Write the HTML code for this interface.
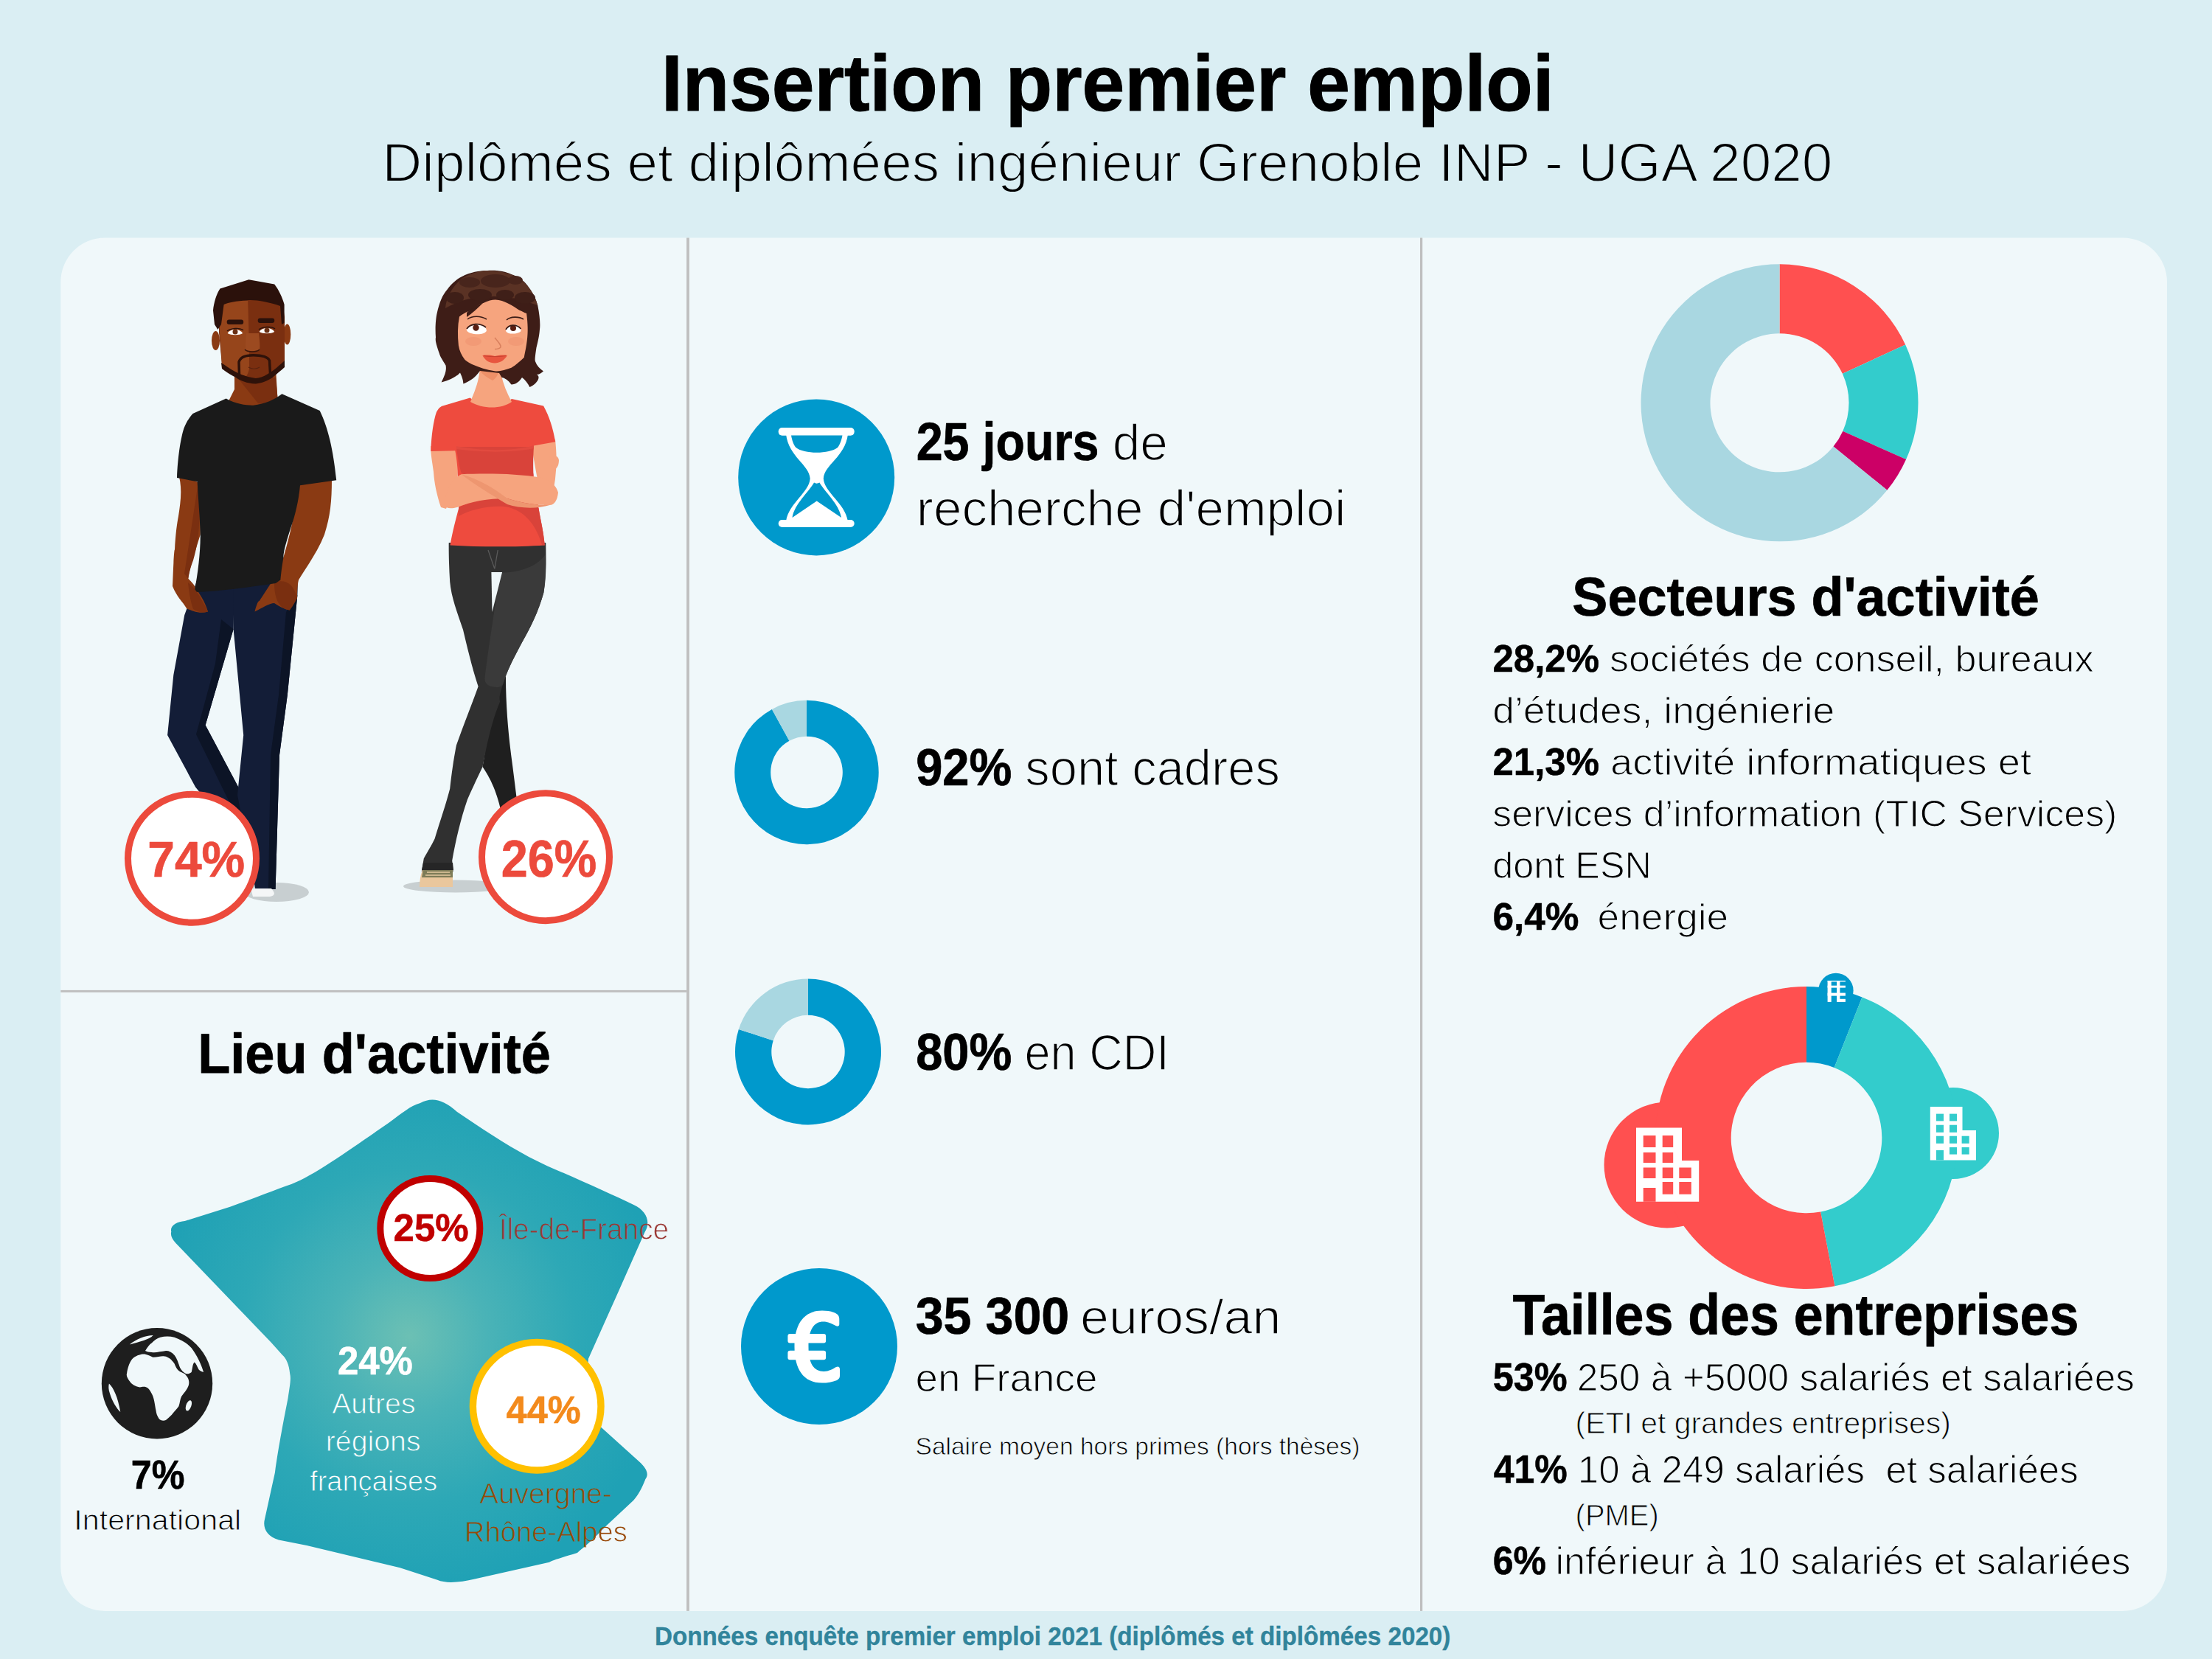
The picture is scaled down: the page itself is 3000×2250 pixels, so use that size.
<!DOCTYPE html>
<html><head><meta charset="utf-8"><title>Insertion premier emploi</title>
<style>html,body{margin:0;padding:0;background:#DAEEF3;}svg{display:block;font-family:"Liberation Sans",sans-serif;}</style>
</head><body>
<svg width="3000" height="2250" viewBox="0 0 3000 2250">
<rect width="3000" height="2250" fill="#DAEEF3"/>
<rect x="82.3" y="322.5" width="2856.7" height="1862.4" rx="60" ry="60" fill="#F0F8FA"/>
<rect x="931.1" y="322.5" width="3.8" height="1862.4" fill="#BFBFBF"/>
<rect x="1926" y="322.5" width="3.2" height="1862.4" fill="#BFBFBF"/>
<rect x="82.3" y="1342.9" width="849" height="3" fill="#BFBFBF"/>
<ellipse cx="375" cy="1210" rx="44" ry="13" fill="#C8CFD1"/>
<polygon points="268.0,785.0 318.0,785.0 316.6,853.2 278.6,983.4 324.7,1070.2 338.0,1110.0 300.0,1110.0 265.1,1067.5 227.1,997.0 235.3,915.6 250.2,834.2" fill="#131D37"/>
<polygon points="300.0,840.0 316.6,853.2 278.6,983.4 324.7,1070.2 338.0,1110.0 322.0,1110.0 266.0,996.0 292.0,900.0" fill="#0C1426"/>
<polygon points="316.0,780.0 404.0,780.0 403.4,807.1 389.8,942.7 379.0,1024.0 373.6,1206.0 346.4,1206.0 322.0,1078.3 330.2,997.0 316.6,853.2" fill="#131D37"/>
<polygon points="388.0,830.0 403.4,807.1 389.8,942.7 379.0,1024.0 373.6,1206.0 364.0,1206.0 367.0,1024.0 378.0,942.7" fill="#0C1426"/>
<path d="M340,1205 L368,1205 C372,1210 375,1214 366,1216 L343,1216 Z" fill="#F4F6F7"/>
<path d="M241,640 L270,655 C272,690 272,710 271.7,725 C266,745 258,765 255.3,784.4 C260,790 263,792 264,795 C270,805 278,815 282,829.5 C270,833 260,828 253.3,825.4 C247,815 240,810 234,795 C235,770 236,745 237,745.5 C238,725 240,710 242,700 C245,680 248,660 241,640 Z" fill="#8A3A13"/>
<path d="M268,660 C272,700 271,730 262,760 C258,770 256,780 255.3,784.4 L250,778 C256,740 262,700 268,660 Z" fill="#7A2F10"/>
<path d="M405,650 L450,650 C450,680 448,700 440,725 C430,750 415,770 405,786.4 C403,795 403,805 403,811 C398,820 395,825 392.7,827.4 C385,826 378,822 372,818 C365,818 355,825 345.5,829.5 C348,820 350,815 351.7,815.1 C358,805 365,795 370.1,786.4 C378,770 382,760 384.5,755.7 C392,730 400,700 405,650 Z" fill="#8A3A13"/>
<path d="M372,790 C385,785 398,790 403,811 C398,820 395,825 392.7,827.4 C380,826 372,815 372,790 Z" fill="#7A2F10"/>
<path d="M318,500 L374,500 L377,550 L306,552 L318,528 Z" fill="#8A3A13"/>
<path d="M322,512 L374,512 L377,545 C366,548 355,548 350,547 Z" fill="#7A2F10"/>
<path d="M306.6,540.5 C320,548 335,550 343.5,549.7 C360,548 372,542 382.4,534.3 L433.7,556.9 C445,580 452,610 456.2,651.2 L407,658.3 C405,680 400,700 394.7,714.7 C388,735 384,750 384.5,755.7 C382,770 381,780 380.4,786.4 L374,791 C340,796 300,802 263.5,803 C268,780 272,750 271.7,725 C271,700 269,680 267.6,653.2 L240,648 C241,620 245,595 249.2,581.5 C253,572 257,566 261.5,561 Z" fill="#1A1A1A"/>
<path d="M255,790 C262,795 270,805 282,829.5 C275,832 268,830 262,826 C258,815 256,800 255,790 Z" fill="#7A2F10"/>
<ellipse cx="292.5" cy="462" rx="5.5" ry="13" fill="#8A3A13"/>
<ellipse cx="389.5" cy="453.5" rx="4.8" ry="14" fill="#8A3A13"/>
<path d="M297,412 C320,403 350,402 383,410 L386,430 L386,493 C375,505 360,518 343,519 C325,518 310,505 301,495 L297,451 Z" fill="#7A2F10"/>
<path d="M298,412 L336,404 C337,430 338,470 338,500 C336,510 332,514 327,516 C315,508 305,500 301,495 L298,451 Z" fill="#96451B"/>
<path d="M334,452 L351,452 C352,462 353,470 352,474 C348,477 338,477 333,474 C333,468 333,460 334,452 Z" fill="#9C4A20"/>
<path d="M332,474 C336,478 348,478 352,474" stroke="#3A160B" stroke-width="1.5" fill="none"/>
<path d="M300,492 C312,500 325,510 346.6,513 C360,512 372,502 386,489 L386,498 C378,505 370,512 368,513 C360,518 352,520 346.6,520.5 C335,520 325,516 320,512 C312,508 306,504 301,500 Z" fill="#2E120A"/>
<path d="M324.5,509 L324,491 C326,484 335,481.8 343.5,481.8 C355,481.8 363,484 365.5,489 L366.5,507" stroke="#2E120A" stroke-width="3.5" fill="none"/>
<path d="M337,498 C341,501 348,501 352,498" stroke="#5A2410" stroke-width="1.2" fill="none"/>
<path d="M289,421 C290,410 294,398 298.4,391.5 L337.4,379.2 L372.2,385.4 C378,393 383,403 385.6,413 L385.6,438 L382,440 L380,415 C365,410 345,406 335.3,407.4 C320,408 310,410 303.6,413 L300,440 L295.4,447 L291,440 Z" fill="#2B110B"/>
<rect x="307.7" y="433.5" width="22.5" height="6.5" rx="3" fill="#2B110B"/><rect x="349.7" y="431.5" width="22.5" height="6.5" rx="3" fill="#2B110B"/>
<path d="M308.7,452 C312,446 325,445 329.2,452 C325,455 313,455 308.7,452 Z" fill="#FFFFFF"/><path d="M351.7,450 C355,444 368,443 372.2,450 C368,453 356,453 351.7,450 Z" fill="#FFFFFF"/>
<circle cx="319" cy="450" r="3.5" fill="#6A3015"/><circle cx="362" cy="448" r="3.5" fill="#6A3015"/>
<path d="M308,449 C313,445 325,444 330,448 M351,447 C356,443 368,442 373,446" stroke="#2B110B" stroke-width="1.4" fill="none"/>
<ellipse cx="618" cy="1202" rx="71" ry="8.5" fill="#C8CFD1"/>
<path d="M660,922 L686,918 C686,960 690,1000 694,1030 C698,1060 701,1085 704,1110 L682,1112 C676,1080 668,1060 654.5,1040 C660,1010 662,980 662,950 Z" fill="#1F1F1F"/>
<path d="M608.7,736 L740.2,736 C741,760 740,785 737.3,803.9 C730,830 720,850 707.7,871.8 C698,890 690,905 684.1,922 C680,935 676,945 678.2,951.6 C668,975 660,1010 654.5,1040 C645,1060 638,1075 633.9,1084.5 C625,1110 618,1140 613.2,1167.2 L614.7,1182 L571.8,1182 L574.8,1164.3 C580,1155 586,1145 589.5,1137.7 C598,1110 605,1090 610.2,1069.7 C613,1045 616,1025 619,1010.6 C628,985 640,955 648.6,930.9 C640,905 633,875 628,854 C620,830 612,810 610.2,789 C609,770 608.5,750 608.7,736 Z" fill="#303030"/>
<path d="M678.2,777 C700,776 725,772 740,752 C741,770 740,790 737.3,803.9 C730,830 720,850 707.7,871.8 C698,890 690,905 684.1,922 C682,930 680,932 674,932 C664,932 657,928 657.5,920 C662,880 672,820 678.2,777 Z" fill="#3A3A3A"/>
<path d="M666.4,776 L681.1,776 L667.5,830 Z" fill="#EEF6F8"/>
<path d="M662,746 L670.8,771.4 L675.2,746" stroke="#5A5A5A" stroke-width="1.3" fill="none"/>
<path d="M573,1180 L614,1180 L614,1203 L569,1203 C569,1195 570,1187 573,1180 Z" fill="#EAC79D"/>
<path d="M574,1179 L614,1179 L614,1190 L572,1190 Z" fill="#7E7C58"/>
<path d="M579,1183 L610,1183 M577,1187 L611,1187" stroke="#E4C9A0" stroke-width="1.6"/>
<path d="M574,1170 L614,1170 L615,1180 L572,1180 Z" fill="#262626"/>
<path d="M584,605 L620,605 C621,630 621,640 620.6,646.6 C618,660 612,675 605,690 L598,688 C592,670 589,655 588,640 C586,625 584,615 584,605 Z" fill="#F6A47E"/>
<path d="M720,598 L753,596 C755,615 755,630 754,638.2 C753,655 750,670 745.6,685 L738,685 C730,660 725,630 720,598 Z" fill="#F6A47E"/>
<path d="M637.5,539.4 C648,548 658,551 666.2,551.2 C678,551 688,546 694,541.1 L737.1,550.4 C745,565 750,580 753.2,599.3 L723.6,604.4 C722,620 722,635 723.6,645 C726,660 729,675 730.4,688.8 C733,705 737,720 738.8,739.4 C700,742 650,742 610.5,739.4 C614,720 618,705 622.3,688.8 C622,670 621,655 620.6,638.2 C620,625 618,615 617.3,611.2 L584.3,612 C585,590 588,570 592,558.8 C595,553 598,551 600.4,550.4 Z" fill="#EE4B3E"/>
<path d="M619,606 L724,606 C723,620 723,635 723.6,645 C690,655 650,652 625.7,641.5 C622,630 620,615 619,606 Z" fill="#D9433A"/>
<path d="M619,605 C650,612 700,612 724,604 L724,608 C700,614 650,614 619,609 Z" fill="#E24A3F"/>
<path d="M622,688 C660,670 710,672 730.4,688.8 C733,705 737,720 738.8,739.4 L735,739 C728,715 715,695 690,688 C670,684 640,690 622,700 Z" fill="#D9433A"/>
<path d="M602,685 C606,660 615,648 625.7,643.2 C660,642 700,642 735,648 C748,652 755,660 757,668 C756,678 752,685 745.6,685 C720,685 700,680 688,676 C660,676 640,680 620,688 C612,690 605,690 602,685 Z" fill="#F6A47E"/>
<path d="M625.7,643.2 C650,650 670,662 688,676 C700,680 720,685 745.6,685 C730,690 705,690 688,684 C665,670 645,658 625.7,643.2 Z" fill="#EE9670"/>
<path d="M745,620 C752,616 757,618 758,624 C758,632 755,636 750,638 Z" fill="#F6A47E"/>
<path d="M651,498 L678,498 C680,515 686,530 694,545 C680,555 655,555 638,545 C645,528 650,515 651,498 Z" fill="#F6A47E"/>
<path d="M651,500 L678,500 C676,508 672,514 668,516 C660,512 655,508 651,503 Z" fill="#EE9068"/>
<path d="M660.9,367 C672,366 685,368 693.5,371.9 C705,376 712,382 715.2,387.1 C722,396 727,405 729.3,414.2 C732,428 733,440 732,446.8 C731,460 728,468 727.1,473.9 C726,482 725,488 726,490.2 C728,496 732,500 737,503.5 C734,506 731,508 728,508 C735,512 726,522 718.4,525 C716,520 712,515 708,512 C704,518 700,521 693.5,521.6 C690,516 684,512 680.5,511.9 L677,506 L651,503 C646,510 640,516 628.4,520.5 C628,514 626,510 624,505.4 C620,510 610,516 598.6,518.4 C603,510 606,502 604.5,495.6 C600,488 597,484 595.8,479.3 C592,468 590,462 591,457.6 C590,445 591,432 592.6,425 C596,410 600,400 606.7,392.5 C612,385 620,378 626.2,375.2 C638,369 650,367 660.9,367 Z" fill="#3E1D17"/>
<path d="M626,378 C640,369 655,367 661,367 C680,367 700,372 712,384 C720,392 726,402 729,414 C715,410 700,402 688,405 C675,400 660,402 650,405 C635,402 615,412 604,418 C605,405 612,390 626,378 Z" fill="#5A3224"/>
<ellipse cx="637" cy="383" rx="14" ry="7" fill="#48251C"/><ellipse cx="672" cy="381" rx="20" ry="9" fill="#48251C"/><ellipse cx="699" cy="380" rx="10" ry="6" fill="#48251C"/>
<ellipse cx="617" cy="404" rx="12" ry="8" fill="#3F1F18"/><ellipse cx="651" cy="400" rx="16" ry="8" fill="#3F1F18"/><ellipse cx="685" cy="400" rx="12" ry="7" fill="#3F1F18"/><ellipse cx="712" cy="404" rx="14" ry="8" fill="#3F1F18"/>
<path d="M623,429.4 C630,424 635,422 639.2,420.7 C645,416 650,412 655.5,411 C662,408 667,406.6 671.8,406.6 C678,407 684,409 688,411 C695,414 700,418 704.3,420.7 C708,422 711,424 714.1,425 C716,440 716,450 715.2,457.6 C714,470 712,478 710.8,484.7 C705,490 700,495 693.5,498.8 C685,502 678,504 670.7,503.2 C660,502 650,498 640,494 C636,492 633,490 630.6,488 C626,482 623,476 621.9,468.5 C620.5,455 620.5,442 623,429.4 Z" fill="#F6A47E"/>
<path d="M633,424 C640,418 650,412 656,410 C648,418 640,425 633,430 Z" fill="#3E1D17"/>
<ellipse cx="642" cy="463" rx="11" ry="6" fill="#EE8F6E" opacity="0.5"/><ellipse cx="700" cy="463" rx="11" ry="6" fill="#EE8F6E" opacity="0.5"/>
<path d="M632.7,447 C636,440 645,438.5 652,440 C657,442 660,445 659.8,449 C657,453 650,454 643,453 C637,452 633,450 632.7,447 Z" fill="#FFFFFF"/>
<path d="M685.9,448 C689,441 696,439.5 702,441 C705,443 707,446 706.5,449 C704,452 697,453 692,452.5 C688,452 686,450 685.9,448 Z" fill="#FFFFFF"/>
<circle cx="645.5" cy="444.5" r="4.2" fill="#5A1E12"/><circle cx="696" cy="445" r="4" fill="#5A1E12"/>
<path d="M633,446 C638,439 650,437 659,444" stroke="#3B1C16" stroke-width="1.8" fill="none"/><path d="M686,447 C690,440 700,439 706.5,446" stroke="#3B1C16" stroke-width="1.8" fill="none"/>
<path d="M634,433 C640,428 652,428 660,433" stroke="#3B1C16" stroke-width="1.6" fill="none"/><path d="M687,434 C692,429 704,429 710,433" stroke="#3B1C16" stroke-width="1.6" fill="none"/>
<path d="M671,458 C676,464 680,468 679,471 C677,473 674,473.5 671,473.5" stroke="#D9805E" stroke-width="1.5" fill="none"/>
<path d="M654.4,482 C662,481 668,482 671,483 C675,482 682,481 688,482 C684,489 677,492.5 671,492.5 C664,492.5 658,489 654.4,482 Z" fill="#E8553F"/>
<path d="M656,482.5 C664,484 678,484 686,482.5" stroke="#C8402F" stroke-width="1" fill="none"/>
<circle cx="260.5" cy="1164.2" r="87" fill="#FFFFFF" stroke="#EC4A3C" stroke-width="9"/>
<circle cx="740" cy="1162.2" r="86.5" fill="#FFFFFF" stroke="#EC4A3C" stroke-width="9"/>
<defs><radialGradient id="mapg" cx="555" cy="1812" r="350" gradientUnits="userSpaceOnUse"><stop offset="0" stop-color="#6CC0B4"/><stop offset="0.3" stop-color="#4AB3B7"/><stop offset="0.65" stop-color="#2DA8B6"/><stop offset="1" stop-color="#1FA1B5"/></radialGradient></defs>
<path d="M232.3,1670.6 C230,1662 240,1657 250.7,1656 L312,1636.8 C345,1625 375,1613 395.2,1606 C430,1592 480,1555 527,1523 C545,1510 556,1500 570,1496 C585,1488 600,1490 620,1508 C660,1535 700,1562 742.6,1581.4 C790,1602 830,1620 859.4,1634 C877,1642 883,1658 874.5,1671 L836.5,1756.7 L798,1842.8 C795,1870 800,1910 813.4,1934 L866.6,1982 C878,1992 880,2000 875.4,2006 C870,2020 865,2028 859,2035 L821,2070.6 C805,2088 790,2100 783,2106 C760,2113 750,2116 745,2118.7 L643.8,2141.5 C625,2146 605,2148 593.2,2142.8 L542.5,2126.3 L416,2096 L378,2088.4 C362,2084 356,2072 359,2060.5 L372.9,1997.2 C378,1960 386,1920 390.6,1896 C393,1880 395,1870 393.2,1863 C392,1850 388,1842 383,1837.7 L368,1821 L238.4,1686 C233,1680 231,1675 232.3,1670.6 Z" fill="url(#mapg)"/>
<circle cx="583.3" cy="1666" r="67.5" fill="#FFFFFF" stroke="#C00000" stroke-width="9"/>
<circle cx="728.2" cy="1907.2" r="86.8" fill="#FFFFFF" stroke="#FFC000" stroke-width="9.4"/>
<circle cx="213" cy="1876.3" r="75.2" fill="#1E1E1E"/>
<path d="M180.7,1841.7 C188,1837 193,1836 198,1836.9 C203,1838 205,1840 207.7,1840.8 C214,1841 220,1838 225,1839.8 C231,1842 234,1846 236.6,1849.4 C238,1853 240,1857 242.4,1859.1 C246,1862 250,1862 252,1864.9 C256,1869 257,1874 255.9,1878.4 C254,1885 249,1889 246.2,1893.8 C244,1898 244,1903 242.4,1907.3 C239,1912 236,1915 232.7,1918.9 C229,1922 226,1926 223.1,1926.6 C219,1927 216,1925 215.4,1923.7 C213,1920 212,1917 211.5,1913.1 C210,1905 209,1895 205.7,1889.9 C203,1885 201,1882 198,1881.3 C194,1880 191,1882 188.4,1881.3 C184,1880 179,1878 176.8,1874.5 C173,1870 171,1866 172,1862.9 C173,1855 176,1846 180.7,1841.7 Z" fill="#F0F8FA"/>
<path d="M197,1832 C200,1827 203,1823 205.7,1821.5 C209,1818 213,1815 217.3,1813.8 C224,1812 230,1812 236.6,1813.8 C246,1817 254,1822 259.7,1828.2 C267,1838 273,1850 276.1,1861 C273,1860 271,1859 269.4,1857.2 C267,1853 266,1849 263.6,1847.5 C261,1850 261,1857 259.7,1861 C257,1863 254,1864 252,1862.9 C248,1861 246,1858 244.3,1855.2 C242,1849 240,1842 236.6,1837.9 C233,1834 229,1832 225,1832.1 C218,1833 211,1835 205.7,1834 C202,1834 199,1833 197,1832 Z" fill="#F0F8FA"/>
<path d="M175.8,1823.4 C185,1816 197,1811 207.7,1810.9 C205,1814 200,1816 195,1818 C188,1820 182,1822 175.8,1823.4 Z" fill="#F0F8FA"/>
<path d="M147.9,1876.4 C154,1882 160,1895 163.3,1915 C158,1910 152,1900 149,1890 C147,1884 147,1880 147.9,1876.4 Z" fill="#F0F8FA"/>
<ellipse cx="255.9" cy="1906.3" rx="3.5" ry="7.5" transform="rotate(20 255.9 1906.3)" fill="#F0F8FA"/>
<defs><clipPath id="mapclip"><path d="M232.3,1670.6 C230,1662 240,1657 250.7,1656 L312,1636.8 C345,1625 375,1613 395.2,1606 C430,1592 480,1555 527,1523 C545,1510 556,1500 570,1496 C585,1488 600,1490 620,1508 C660,1535 700,1562 742.6,1581.4 C790,1602 830,1620 859.4,1634 C877,1642 883,1658 874.5,1671 L836.5,1756.7 L798,1842.8 C795,1870 800,1910 813.4,1934 L866.6,1982 C878,1992 880,2000 875.4,2006 C870,2020 865,2028 859,2035 L821,2070.6 C805,2088 790,2100 783,2106 C760,2113 750,2116 745,2118.7 L643.8,2141.5 C625,2146 605,2148 593.2,2142.8 L542.5,2126.3 L416,2096 L378,2088.4 C362,2084 356,2072 359,2060.5 L372.9,1997.2 C378,1960 386,1920 390.6,1896 C393,1880 395,1870 393.2,1863 C392,1850 388,1842 383,1837.7 L368,1821 L238.4,1686 C233,1680 231,1675 232.3,1670.6 Z"/></clipPath><mask id="outmap" maskUnits="userSpaceOnUse" x="0" y="0" width="3000" height="2250"><rect width="3000" height="2250" fill="#fff"/><path d="M232.3,1670.6 C230,1662 240,1657 250.7,1656 L312,1636.8 C345,1625 375,1613 395.2,1606 C430,1592 480,1555 527,1523 C545,1510 556,1500 570,1496 C585,1488 600,1490 620,1508 C660,1535 700,1562 742.6,1581.4 C790,1602 830,1620 859.4,1634 C877,1642 883,1658 874.5,1671 L836.5,1756.7 L798,1842.8 C795,1870 800,1910 813.4,1934 L866.6,1982 C878,1992 880,2000 875.4,2006 C870,2020 865,2028 859,2035 L821,2070.6 C805,2088 790,2100 783,2106 C760,2113 750,2116 745,2118.7 L643.8,2141.5 C625,2146 605,2148 593.2,2142.8 L542.5,2126.3 L416,2096 L378,2088.4 C362,2084 356,2072 359,2060.5 L372.9,1997.2 C378,1960 386,1920 390.6,1896 C393,1880 395,1870 393.2,1863 C392,1850 388,1842 383,1837.7 L368,1821 L238.4,1686 C233,1680 231,1675 232.3,1670.6 Z" fill="#000"/></mask></defs>
<circle cx="1107.2" cy="647.4" r="106" fill="#0099CC"/>
<rect x="1055.7" y="580" width="103" height="10.8" rx="5" fill="#FFFFFF"/><rect x="1055.7" y="705" width="103" height="10" rx="5" fill="#FFFFFF"/><path d="M1066,589 L1150,589 C1146,620 1118,630 1116.8,649 C1118,668 1146,682 1150,707 L1066,707 C1070,682 1097.5,668 1098.7,649 C1097.5,630 1070,620 1066,589 Z" fill="#FFFFFF"/><path d="M1073,590.5 L1142.5,590.5 C1141,598 1139,603 1136,607 C1125,616 1090,616 1079.5,607 C1076,603 1074.5,598 1073,590.5 Z" fill="#0099CC"/><path d="M1104,654.5 C1098,666 1077,684 1074.5,702 L1107.7,679.4 L1141,702 C1138.5,684 1117.5,666 1111.5,654.5 C1109,656 1106,656 1104,654.5 Z" fill="#0099CC"/>
<path d="M1094.00,949.80 A97.7,97.7 0 1 1 1046.93,961.88 L1070.49,1004.74 A48.8,48.8 0 1 0 1094.00,998.70 Z" fill="#0099CC"/>
<path d="M1046.93,961.88 A97.7,97.7 0 0 1 1094.00,949.80 L1094.00,998.70 A48.8,48.8 0 0 0 1070.49,1004.74 Z" fill="#A9D7E1"/>
<path d="M1096.00,1327.50 A99,99 0 1 1 1001.85,1395.91 L1048.73,1411.14 A49.7,49.7 0 1 0 1096.00,1376.80 Z" fill="#0099CC"/>
<path d="M1001.85,1395.91 A99,99 0 0 1 1096.00,1327.50 L1096.00,1376.80 A49.7,49.7 0 0 0 1048.73,1411.14 Z" fill="#A9D7E1"/>
<circle cx="1111" cy="1826" r="106" fill="#0099CC"/>
<path d="M1115,1777.6 C1123,1777.6 1131,1779 1135.5,1782.5 C1138,1784.5 1138.3,1787 1138.3,1790 L1138.3,1796 C1138.3,1798.5 1136,1799.5 1133.5,1798 C1128,1795 1123,1792.5 1116.6,1792.5 C1104,1792.5 1096.5,1803 1096.5,1826.5 C1096.5,1850 1104,1860 1117.4,1859.9 C1124,1859.9 1129,1857 1134,1854 C1137,1852.5 1139,1854 1139,1857 L1139,1866 C1139,1869 1137.5,1870.5 1135,1872 C1129,1874.5 1122,1875.6 1115,1875.6 C1089,1875.6 1077.5,1856 1077.5,1826.5 C1077.5,1796 1090,1777.6 1115,1777.6 Z" fill="#FFFFFF"/><rect x="1068.4" y="1809" width="51.7" height="12.5" rx="3" fill="#FFFFFF"/><rect x="1068.4" y="1831.7" width="51.7" height="12.5" rx="3" fill="#FFFFFF"/>
<path d="M2413.50,358.30 A188,188 0 0 1 2584.16,467.44 L2498.83,506.87 A94,94 0 0 0 2413.50,452.30 Z" fill="#FF5050"/>
<path d="M2584.16,467.44 A188,188 0 0 1 2585.11,623.07 L2499.31,584.68 A94,94 0 0 0 2498.83,506.87 Z" fill="#33CCCC"/>
<path d="M2585.11,623.07 A188,188 0 0 1 2559.40,664.87 L2486.45,605.58 A94,94 0 0 0 2499.31,584.68 Z" fill="#CC0066"/>
<path d="M2559.40,664.87 A188,188 0 1 1 2413.50,358.30 L2413.50,452.30 A94,94 0 1 0 2486.45,605.58 Z" fill="#A9D7E1"/>
<circle cx="2261" cy="1580" r="85.5" fill="#FF5050"/>
<circle cx="2649" cy="1537" r="62" fill="#33CCCC"/>
<circle cx="2489.9" cy="1343.4" r="23.7" fill="#0099CC"/>
<path d="M2450.00,1338.00 A205,205 0 0 1 2525.47,1352.40 L2487.66,1447.88 A102.3,102.3 0 0 0 2450.00,1440.70 Z" fill="#0099CC"/>
<path d="M2525.47,1352.40 A205,205 0 0 1 2488.41,1744.37 L2469.17,1643.49 A102.3,102.3 0 0 0 2487.66,1447.88 Z" fill="#33CCCC"/>
<path d="M2488.41,1744.37 A205,205 0 1 1 2450.00,1338.00 L2450.00,1440.70 A102.3,102.3 0 1 0 2469.17,1643.49 Z" fill="#FF5050"/>
<path d="M2219,1629.8 L2219,1529.4 L2281,1529.4 L2281,1574 L2304.2,1574 L2304.2,1629.8 Z" fill="#FFFFFF"/><rect x="2228.7" y="1540" width="16.800000000000182" height="16" fill="#FF5050"/><rect x="2228.7" y="1563" width="16.800000000000182" height="14" fill="#FF5050"/><rect x="2228.7" y="1583.5" width="16.800000000000182" height="14.5" fill="#FF5050"/><rect x="2254.7" y="1540" width="14.5" height="16" fill="#FF5050"/><rect x="2254.7" y="1563" width="14.5" height="14" fill="#FF5050"/><rect x="2254.7" y="1583.5" width="14.5" height="14.5" fill="#FF5050"/><rect x="2277.3" y="1583.5" width="16.5" height="14.5" fill="#FF5050"/><rect x="2254.7" y="1603" width="14.5" height="16.700000000000045" fill="#FF5050"/><rect x="2277.3" y="1603" width="16.5" height="16.700000000000045" fill="#FF5050"/><rect x="2228.7" y="1611" width="16.800000000000182" height="18.799999999999955" fill="#FF5050"/>
<path d="M2617.8,1573.4 L2617.8,1501 L2661.5,1501 L2661.5,1532.9 L2680,1532.9 L2680,1573.4 Z" fill="#FFFFFF"/><rect x="2626" y="1510.6" width="10" height="9.800000000000182" fill="#33CCCC"/><rect x="2626" y="1525.7" width="10" height="10.099999999999909" fill="#33CCCC"/><rect x="2626" y="1540.7" width="10" height="10.099999999999909" fill="#33CCCC"/><rect x="2644" y="1510.6" width="10" height="9.800000000000182" fill="#33CCCC"/><rect x="2644" y="1525.7" width="10" height="10.099999999999909" fill="#33CCCC"/><rect x="2644" y="1540.7" width="10" height="10.099999999999909" fill="#33CCCC"/><rect x="2660.6" y="1540.7" width="10.099999999999909" height="10.099999999999909" fill="#33CCCC"/><rect x="2644" y="1556" width="10" height="9.599999999999909" fill="#33CCCC"/><rect x="2660.6" y="1556" width="10.099999999999909" height="9.599999999999909" fill="#33CCCC"/><rect x="2626" y="1560" width="10" height="13.400000000000091" fill="#33CCCC"/>
<g fill="#FFFFFF"><rect x="2478.6" y="1330" width="5.1" height="28.9"/><rect x="2478.6" y="1330" width="24.3" height="1.4"/><rect x="2491.1" y="1330" width="4.3" height="28.9"/><rect x="2478.6" y="1336.7" width="24.3" height="2.9"/><rect x="2478.6" y="1346.6" width="24.3" height="4"/><rect x="2491.1" y="1354.8" width="11.8" height="4.1"/></g>
<text x="897.0" y="150.4" font-size="108.43" font-weight="bold" fill="#000000" textLength="1210.48" lengthAdjust="spacingAndGlyphs" xml:space="preserve" stroke="#000000" stroke-width="1.08" stroke-linejoin="round">Insertion premier emploi</text>
<text x="518.37" y="246.0" font-size="74.3" font-weight="normal" fill="#000000" textLength="1966.92" lengthAdjust="spacingAndGlyphs" xml:space="preserve" stroke="#DAEEF3" stroke-width="1.78" stroke-linejoin="round">Diplômés et diplômées ingénieur Grenoble INP - UGA 2020</text>
<text x="1242.7" y="623.5" font-size="71.66" font-weight="bold" fill="#000000" textLength="247.78" lengthAdjust="spacingAndGlyphs" xml:space="preserve" stroke="#000000" stroke-width="0.72" stroke-linejoin="round">25 jours</text>
<text x="1508.65" y="623.5" font-size="68.79" font-weight="normal" fill="#000000" textLength="75.2" lengthAdjust="spacingAndGlyphs" xml:space="preserve" stroke="#F0F8FA" stroke-width="1.65" stroke-linejoin="round">de</text>
<text x="1242.87" y="713.0" font-size="68.79" font-weight="normal" fill="#000000" textLength="582.43" lengthAdjust="spacingAndGlyphs" xml:space="preserve" stroke="#F0F8FA" stroke-width="1.65" stroke-linejoin="round">recherche d&#x27;emploi</text>
<text x="1242.17" y="1064.5" font-size="70.93" font-weight="bold" fill="#000000" textLength="130.23" lengthAdjust="spacingAndGlyphs" xml:space="preserve" stroke="#000000" stroke-width="0.71" stroke-linejoin="round">92%</text>
<text x="1390.34" y="1064.5" font-size="68.09" font-weight="normal" fill="#000000" textLength="345.57" lengthAdjust="spacingAndGlyphs" xml:space="preserve" stroke="#F0F8FA" stroke-width="1.63" stroke-linejoin="round">sont cadres</text>
<text x="1242.17" y="1450.8" font-size="70.93" font-weight="bold" fill="#000000" textLength="130.23" lengthAdjust="spacingAndGlyphs" xml:space="preserve" stroke="#000000" stroke-width="0.71" stroke-linejoin="round">80%</text>
<text x="1389.52" y="1450.8" font-size="68.09" font-weight="normal" fill="#000000" textLength="196.34" lengthAdjust="spacingAndGlyphs" xml:space="preserve" stroke="#F0F8FA" stroke-width="1.63" stroke-linejoin="round">en CDI</text>
<text x="1241.64" y="1809.0" font-size="69.77" font-weight="bold" fill="#000000" textLength="208.63" lengthAdjust="spacingAndGlyphs" xml:space="preserve" stroke="#000000" stroke-width="0.70" stroke-linejoin="round">35 300</text>
<text x="1465.06" y="1809.0" font-size="66.98" font-weight="normal" fill="#000000" textLength="272.37" lengthAdjust="spacingAndGlyphs" xml:space="preserve" stroke="#F0F8FA" stroke-width="1.61" stroke-linejoin="round">euros/an</text>
<text x="1241.58" y="1887.1" font-size="54.42" font-weight="normal" fill="#000000" textLength="246.9" lengthAdjust="spacingAndGlyphs" xml:space="preserve" stroke="#F0F8FA" stroke-width="1.31" stroke-linejoin="round">en France</text>
<text x="1241.59" y="1972.6" font-size="33.27" font-weight="normal" fill="#000000" textLength="602.94" lengthAdjust="spacingAndGlyphs" xml:space="preserve" stroke="#F0F8FA" stroke-width="0.80" stroke-linejoin="round">Salaire moyen hors primes (hors thèses)</text>
<text x="2132.36" y="835.3" font-size="74.13" font-weight="bold" fill="#000000" textLength="633.33" lengthAdjust="spacingAndGlyphs" xml:space="preserve" stroke="#000000" stroke-width="0.74" stroke-linejoin="round">Secteurs d&#x27;activité</text>
<text x="2024.41" y="911.3" font-size="51.31" font-weight="bold" fill="#000000" textLength="144.63" lengthAdjust="spacingAndGlyphs" xml:space="preserve" stroke="#000000" stroke-width="0.51" stroke-linejoin="round">28,2%</text>
<text x="2182.99" y="911.3" font-size="49.26" font-weight="normal" fill="#000000" textLength="656.56" lengthAdjust="spacingAndGlyphs" xml:space="preserve" stroke="#F0F8FA" stroke-width="1.18" stroke-linejoin="round">sociétés de conseil, bureaux</text>
<text x="2024.23" y="981.0" font-size="49.26" font-weight="normal" fill="#000000" textLength="464.1" lengthAdjust="spacingAndGlyphs" xml:space="preserve" stroke="#F0F8FA" stroke-width="1.18" stroke-linejoin="round">d’études, ingénierie</text>
<text x="2024.41" y="1050.5" font-size="51.31" font-weight="bold" fill="#000000" textLength="144.63" lengthAdjust="spacingAndGlyphs" xml:space="preserve" stroke="#000000" stroke-width="0.51" stroke-linejoin="round">21,3%</text>
<text x="2184.09" y="1050.5" font-size="49.26" font-weight="normal" fill="#000000" textLength="571.02" lengthAdjust="spacingAndGlyphs" xml:space="preserve" stroke="#F0F8FA" stroke-width="1.18" stroke-linejoin="round">activité informatiques et</text>
<text x="2024.29" y="1120.5" font-size="49.26" font-weight="normal" fill="#000000" textLength="847.07" lengthAdjust="spacingAndGlyphs" xml:space="preserve" stroke="#F0F8FA" stroke-width="1.18" stroke-linejoin="round">services d’information (TIC Services)</text>
<text x="2024.36" y="1191.0" font-size="49.26" font-weight="normal" fill="#000000" textLength="215.54" lengthAdjust="spacingAndGlyphs" xml:space="preserve" stroke="#F0F8FA" stroke-width="1.18" stroke-linejoin="round">dont ESN</text>
<text x="2024.4" y="1261.0" font-size="51.31" font-weight="bold" fill="#000000" textLength="117.03" lengthAdjust="spacingAndGlyphs" xml:space="preserve" stroke="#000000" stroke-width="0.51" stroke-linejoin="round">6,4%</text>
<text x="2166.64" y="1261.0" font-size="49.26" font-weight="normal" fill="#000000" textLength="177.54" lengthAdjust="spacingAndGlyphs" xml:space="preserve" stroke="#F0F8FA" stroke-width="1.18" stroke-linejoin="round">énergie</text>
<text x="2051.47" y="1809.6" font-size="77.47" font-weight="bold" fill="#000000" textLength="767.88" lengthAdjust="spacingAndGlyphs" xml:space="preserve" stroke="#000000" stroke-width="0.77" stroke-linejoin="round">Tailles des entreprises</text>
<text x="2024.7" y="1886.0" font-size="53.05" font-weight="bold" fill="#000000" textLength="100.91" lengthAdjust="spacingAndGlyphs" xml:space="preserve" stroke="#000000" stroke-width="0.53" stroke-linejoin="round">53%</text>
<text x="2138.67" y="1886.0" font-size="50.93" font-weight="normal" fill="#000000" textLength="756.41" lengthAdjust="spacingAndGlyphs" xml:space="preserve" stroke="#F0F8FA" stroke-width="1.22" stroke-linejoin="round">250 à +5000 salariés et salariées</text>
<text x="2136.6" y="1944.0" font-size="40.89" font-weight="normal" fill="#000000" textLength="509.3" lengthAdjust="spacingAndGlyphs" xml:space="preserve" stroke="#F0F8FA" stroke-width="0.98" stroke-linejoin="round">(ETI et grandes entreprises)</text>
<text x="2025.66" y="2010.6" font-size="53.05" font-weight="bold" fill="#000000" textLength="99.94" lengthAdjust="spacingAndGlyphs" xml:space="preserve" stroke="#000000" stroke-width="0.53" stroke-linejoin="round">41%</text>
<text x="2139.89" y="2010.6" font-size="50.93" font-weight="normal" fill="#000000" textLength="678.95" lengthAdjust="spacingAndGlyphs" xml:space="preserve" stroke="#F0F8FA" stroke-width="1.22" stroke-linejoin="round">10 à 249 salariés  et salariées</text>
<text x="2136.62" y="2068.8" font-size="40.18" font-weight="normal" fill="#000000" textLength="113.18" lengthAdjust="spacingAndGlyphs" xml:space="preserve" stroke="#F0F8FA" stroke-width="0.96" stroke-linejoin="round">(PME)</text>
<text x="2024.72" y="2135.1" font-size="53.05" font-weight="bold" fill="#000000" textLength="72.16" lengthAdjust="spacingAndGlyphs" xml:space="preserve" stroke="#000000" stroke-width="0.53" stroke-linejoin="round">6%</text>
<text x="2109.43" y="2135.1" font-size="50.93" font-weight="normal" fill="#000000" textLength="780.22" lengthAdjust="spacingAndGlyphs" xml:space="preserve" stroke="#F0F8FA" stroke-width="1.22" stroke-linejoin="round">inférieur à 10 salariés et salariées</text>
<text x="888.06" y="2230.7" font-size="34.16" font-weight="bold" fill="#31849B" textLength="1079.33" lengthAdjust="spacingAndGlyphs" xml:space="preserve" stroke="#31849B" stroke-width="0.34" stroke-linejoin="round">Données enquête premier emploi 2021 (diplômés et diplômées 2020)</text>
<text x="268.19" y="1455.4" font-size="75.15" font-weight="bold" fill="#000000" textLength="478.76" lengthAdjust="spacingAndGlyphs" xml:space="preserve" stroke="#000000" stroke-width="0.75" stroke-linejoin="round">Lieu d&#x27;activité</text>
<text x="533.53" y="1683.0" font-size="51.89" font-weight="bold" fill="#C00000" textLength="102.17" lengthAdjust="spacingAndGlyphs" xml:space="preserve" stroke="#C00000" stroke-width="0.52" stroke-linejoin="round">25%</text>
<g clip-path="url(#mapclip)"><text x="677.0" y="1681.0" font-size="40.26" font-weight="normal" fill="#9B3935" textLength="230.01" lengthAdjust="spacingAndGlyphs" xml:space="preserve" stroke-width="0.97" stroke-linejoin="round" stroke="url(#mapg)">Île-de-France</text></g><g mask="url(#outmap)"><text x="677.0" y="1681.0" font-size="40.26" font-weight="normal" fill="#9B3935" textLength="230.01" lengthAdjust="spacingAndGlyphs" xml:space="preserve" stroke-width="0.97" stroke-linejoin="round" stroke="#F0F8FA">Île-de-France</text></g>
<text x="686.53" y="1930.0" font-size="52.03" font-weight="bold" fill="#F38A1C" textLength="101.25" lengthAdjust="spacingAndGlyphs" xml:space="preserve" stroke="#F38A1C" stroke-width="0.52" stroke-linejoin="round">44%</text>
<g clip-path="url(#mapclip)"><text x="650.2" y="2038.8" font-size="38.91" font-weight="normal" fill="#984807" textLength="179.82" lengthAdjust="spacingAndGlyphs" xml:space="preserve" stroke-width="0.93" stroke-linejoin="round" stroke="url(#mapg)">Auvergne-</text></g><g mask="url(#outmap)"><text x="650.2" y="2038.8" font-size="38.91" font-weight="normal" fill="#984807" textLength="179.82" lengthAdjust="spacingAndGlyphs" xml:space="preserve" stroke-width="0.93" stroke-linejoin="round" stroke="#F0F8FA">Auvergne-</text></g>
<g clip-path="url(#mapclip)"><text x="630.07" y="2090.9" font-size="39.05" font-weight="normal" fill="#984807" textLength="220.74" lengthAdjust="spacingAndGlyphs" xml:space="preserve" stroke-width="0.94" stroke-linejoin="round" stroke="url(#mapg)">Rhône-Alpes</text></g><g mask="url(#outmap)"><text x="630.07" y="2090.9" font-size="39.05" font-weight="normal" fill="#984807" textLength="220.74" lengthAdjust="spacingAndGlyphs" xml:space="preserve" stroke-width="0.94" stroke-linejoin="round" stroke="#F0F8FA">Rhône-Alpes</text></g>
<text x="458.01" y="1864.0" font-size="53.78" font-weight="bold" fill="#FFFFFF" textLength="101.83" lengthAdjust="spacingAndGlyphs" xml:space="preserve" stroke="#FFFFFF" stroke-width="0.54" stroke-linejoin="round">24%</text>
<text x="450.2" y="1917.0" font-size="39.48" font-weight="normal" fill="#FFFFFF" textLength="113.37" lengthAdjust="spacingAndGlyphs" xml:space="preserve" stroke="url(#mapg)" stroke-width="0.95" stroke-linejoin="round">Autres</text>
<text x="441.71" y="1968.4" font-size="39.48" font-weight="normal" fill="#FFFFFF" textLength="128.83" lengthAdjust="spacingAndGlyphs" xml:space="preserve" stroke="url(#mapg)" stroke-width="0.95" stroke-linejoin="round">régions</text>
<text x="420.14" y="2022.0" font-size="39.48" font-weight="normal" fill="#FFFFFF" textLength="173.02" lengthAdjust="spacingAndGlyphs" xml:space="preserve" stroke="url(#mapg)" stroke-width="0.95" stroke-linejoin="round">françaises</text>
<text x="177.86" y="2019.2" font-size="54.65" font-weight="bold" fill="#000000" textLength="72.75" lengthAdjust="spacingAndGlyphs" xml:space="preserve" stroke="#000000" stroke-width="0.55" stroke-linejoin="round">7%</text>
<text x="100.32" y="2075.1" font-size="39.48" font-weight="normal" fill="#000000" textLength="226.91" lengthAdjust="spacingAndGlyphs" xml:space="preserve" stroke="#F0F8FA" stroke-width="0.95" stroke-linejoin="round">International</text>
<text x="200.33" y="1189.2" font-size="68.9" font-weight="bold" fill="#EC4A3C" textLength="131.85" lengthAdjust="spacingAndGlyphs" xml:space="preserve" stroke="#EC4A3C" stroke-width="0.69" stroke-linejoin="round">74%</text>
<text x="679.75" y="1189.2" font-size="69.77" font-weight="bold" fill="#EC4A3C" textLength="129.34" lengthAdjust="spacingAndGlyphs" xml:space="preserve" stroke="#EC4A3C" stroke-width="0.70" stroke-linejoin="round">26%</text>
</svg>
</body></html>
